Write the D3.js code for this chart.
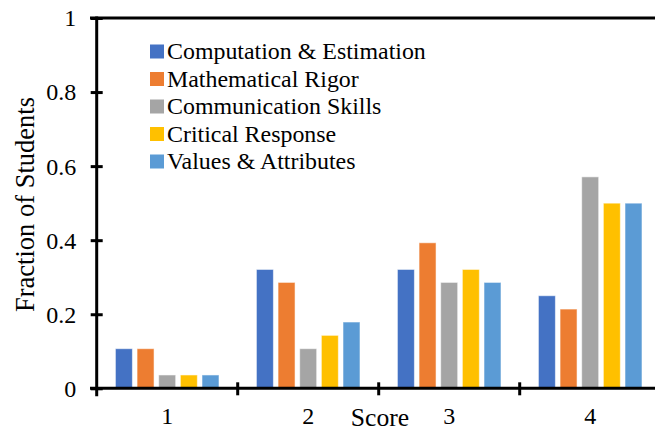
<!DOCTYPE html>
<html>
<head>
<meta charset="utf-8">
<script src="https://cdn.jsdelivr.net/npm/d3@7"></script>
<style>
  html, body { margin: 0; padding: 0; background: #fff; }
  svg { display: block; }
  svg text { font-family: "Liberation Serif", "Times New Roman", Times, "DejaVu Serif", serif !important; fill: #000; }
</style>
</head>
<body>
<svg id="chart" width="655" height="428"></svg>
<script>
// ---- data ----
const categories = ["1", "2", "3", "4"];
const seriesNames = ["Computation & Estimation", "Mathematical Rigor", "Communication Skills", "Critical Response", "Values & Attributes"];
const seriesColors = ["#4472C4", "#ED7D31", "#A5A5A5", "#FFC000", "#5B9BD5"];
const computation = [0.107, 0.321, 0.321, 0.25];
const rigor = [0.107, 0.286, 0.393, 0.214];
const communication = [0.036, 0.107, 0.286, 0.571];
const critical = [0.036, 0.143, 0.321, 0.5];
const values = [0.036, 0.179, 0.286, 0.5];
const seriesValues = [computation, rigor, communication, critical, values];
const yTicks = [0, 0.2, 0.4, 0.6, 0.8, 1];
const xTitle = "Score";
const yTitle = "Fraction of Students";

// ---- layout ----
const svg = d3.select("#chart");
const left = 96.7, catW = 141, y0 = 388.3, y1 = 18;

const x = d3.scaleBand().domain(categories).range([left, left + catW * categories.length]).padding(0);
const xs = d3.scaleBand().domain(seriesNames).range([0, x.bandwidth()]).paddingInner(0.215).paddingOuter(0.864);
const y = d3.scaleLinear().domain([0, 1]).range([y0, y1]);

// bars
const groups = svg.append("g").selectAll("g")
  .data(categories)
  .join("g")
  .attr("transform", d => `translate(${x(d)},0)`);

groups.selectAll("rect")
  .data((c, ci) => seriesNames.map((s, si) => ({ s, si, v: seriesValues[si][ci] })))
  .join("rect")
  .attr("x", d => xs(d.s))
  .attr("width", xs.bandwidth())
  .attr("y", d => y(d.v))
  .attr("height", d => y(0) - y(d.v))
  .attr("fill", d => seriesColors[d.si])
  .attr("stroke", "rgba(255,255,255,0.55)")
  .attr("stroke-width", 1);

// top frame line
svg.append("line")
  .attr("x1", 90).attr("x2", 660)
  .attr("y1", y(1)).attr("y2", y(1))
  .attr("stroke", "#000").attr("stroke-width", 3);

// y axis
const yAxis = svg.append("g")
  .attr("transform", `translate(${left},0)`)
  .call(d3.axisLeft(y).tickValues(yTicks).tickFormat(d => String(d)).tickSize(6).tickPadding(0));
yAxis.attr("font-family", null);
yAxis.select(".domain").remove();
yAxis.append("line").attr("x1", 0).attr("x2", 0).attr("y1", y(1) - 1.5).attr("y2", y0 + 8)
  .attr("stroke", "#000").attr("stroke-width", 3);
yAxis.selectAll(".tick line").attr("x1", -6).attr("x2", 6).attr("stroke", "#000").attr("stroke-width", 3);
yAxis.selectAll(".tick text")
  .attr("x", -20.5)
  .attr("dy", "0.33em")
  .style("font-size", "24px")
  .attr("fill", "#000");

// x axis
const xAxis = svg.append("g")
  .attr("transform", `translate(0,${y0})`)
  .call(d3.axisBottom(x).tickSize(0).tickPadding(0));
xAxis.attr("font-family", null);
xAxis.select(".domain").remove();
xAxis.append("line").attr("x1", 90).attr("x2", 660).attr("y1", 0).attr("y2", 0)
  .attr("stroke", "#000").attr("stroke-width", 3);
xAxis.selectAll(".bound")
  .data(categories.slice(1))
  .join("line")
  .attr("class", "bound")
  .attr("x1", d => x(d)).attr("x2", d => x(d))
  .attr("y1", -6).attr("y2", 7)
  .attr("stroke", "#000").attr("stroke-width", 3);
xAxis.selectAll(".tick text")
  .attr("y", 36)
  .attr("dy", 0)
  .style("font-size", "24px")
  .attr("fill", "#000");

// axis titles
svg.append("text")
  .attr("x", 380).attr("y", 425.5)
  .attr("text-anchor", "middle")
  .style("font-size", "25.6px")
  .text(xTitle);

svg.append("text")
  .attr("transform", `translate(33.5,${204.5}) rotate(-90)`)
  .attr("text-anchor", "middle")
  .style("font-size", "26.5px")
  .text(yTitle);

// legend
const legend = svg.append("g").selectAll("g")
  .data(seriesNames)
  .join("g")
  .attr("transform", (d, i) => `translate(150,${51.5 + i * 27.5})`);
legend.append("rect")
  .attr("x", 0).attr("y", -7).attr("width", 14).attr("height", 14)
  .attr("fill", (d, i) => seriesColors[i]);
legend.append("text")
  .attr("x", 17).attr("y", 0).attr("dy", "0.33em")
  .style("font-size", "23.9px")
  .text(d => d);
</script>
</body>
</html>
